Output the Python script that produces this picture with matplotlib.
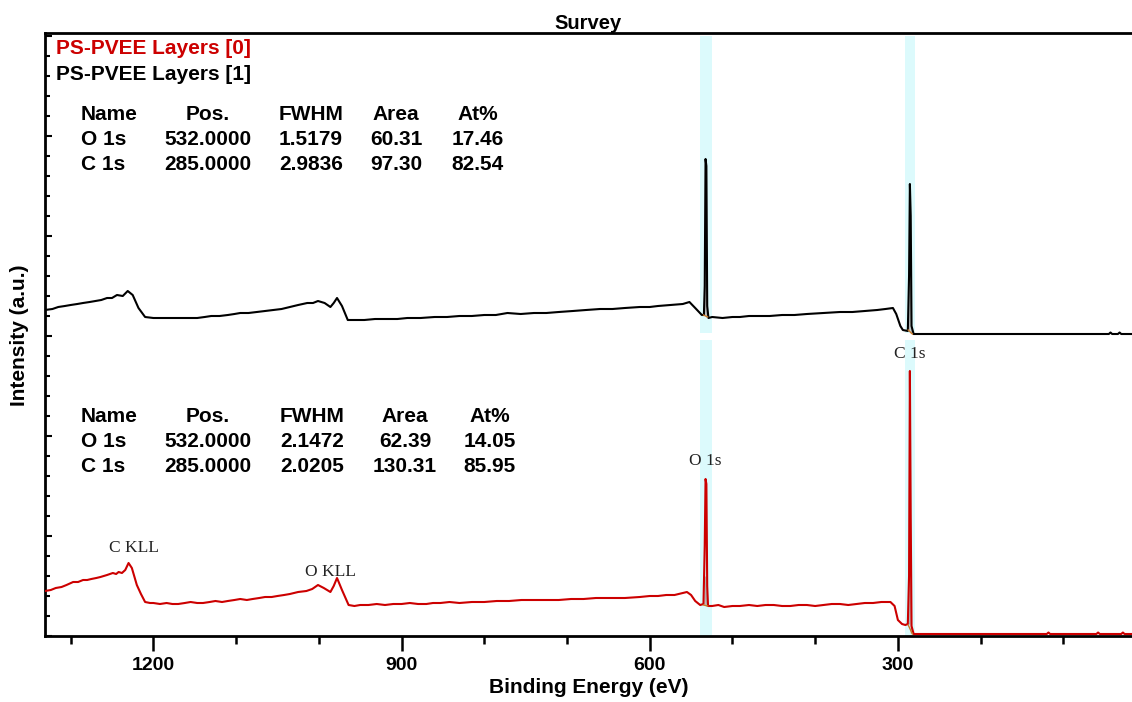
import matplotlib.pyplot as plt
from matplotlib.ticker import MultipleLocator

# survey spectra, binding energy (eV) vs intensity (arb. units, 1 unit = one major y tick)
be_red = [1331, 1324, 1318, 1311, 1305, 1297, 1291, 1285, 1280, 1275, 1269, 1264, 1256, 1249,
          1245, 1242, 1238, 1234, 1230, 1226, 1220, 1215, 1210, 1204, 1200, 1192, 1184, 1177,
          1170, 1162, 1155, 1147, 1140, 1132, 1125, 1117, 1110, 1102, 1095, 1087, 1080, 1072,
          1065, 1057, 1050, 1042, 1035, 1025, 1015, 1008, 1001, 994, 986, 982, 978, 972, 964,
          957, 950, 940, 930, 920, 910, 900, 890, 880, 870, 862, 853, 842, 830, 815, 800, 785,
          770, 755, 740, 725, 710, 695, 680, 665, 650, 630, 612, 600, 590, 580, 570, 560, 555,
          550, 545, 539, 535, 533.5, 532.5, 531.5, 530.5, 529.5, 524.5, 517, 510, 500, 491,
          480, 470, 460, 450, 440, 430, 420, 410, 400, 390, 380, 370, 360, 350, 340, 330, 320,
          315, 309, 304, 300, 295, 291, 288, 286.5, 285.5, 284.5, 283.5, 281, 250, 120, 118,
          116, 60, 58, 56, 30, 28, 26, 17]
int_red = [0.45, 0.46, 0.48, 0.49, 0.51, 0.54, 0.54, 0.56, 0.56, 0.57, 0.58, 0.59, 0.61, 0.63,
           0.62, 0.64, 0.63, 0.66, 0.73, 0.68, 0.51, 0.42, 0.34, 0.33, 0.33, 0.32, 0.33, 0.32,
           0.32, 0.33, 0.34, 0.33, 0.33, 0.34, 0.35, 0.34, 0.35, 0.36, 0.37, 0.36, 0.37, 0.38,
           0.39, 0.39, 0.40, 0.41, 0.42, 0.44, 0.45, 0.47, 0.51, 0.48, 0.44, 0.50, 0.58, 0.46,
           0.31, 0.30, 0.31, 0.31, 0.32, 0.31, 0.32, 0.32, 0.33, 0.32, 0.32, 0.33, 0.33, 0.34,
           0.33, 0.34, 0.34, 0.35, 0.35, 0.36, 0.36, 0.36, 0.36, 0.37, 0.37, 0.38, 0.38, 0.38,
           0.39, 0.40, 0.40, 0.41, 0.41, 0.43, 0.44, 0.41, 0.35, 0.31, 0.32, 0.90, 1.57, 1.52,
           0.50, 0.30, 0.30, 0.31, 0.29, 0.30, 0.30, 0.31, 0.30, 0.31, 0.31, 0.30, 0.30, 0.31,
           0.31, 0.30, 0.31, 0.32, 0.32, 0.31, 0.32, 0.33, 0.33, 0.34, 0.34, 0.34, 0.30, 0.16,
           0.12, 0.11, 0.12, 0.60, 2.65, 1.20, 0.10, 0.02, 0.02, 0.02, 0.035, 0.02, 0.02, 0.035,
           0.02, 0.02, 0.035, 0.02, 0.02]

be_black = [1331, 1322, 1315, 1307, 1300, 1292, 1285, 1277, 1270, 1263, 1256, 1250, 1244, 1237,
            1231, 1225, 1218, 1210, 1200, 1190, 1180, 1170, 1158, 1147, 1138, 1130, 1120, 1110,
            1102, 1095, 1085, 1075, 1065, 1055, 1045, 1035, 1025, 1014, 1007, 1001, 993, 986,
            982, 978, 972, 965, 955, 945, 932, 920, 905, 893, 877, 860, 845, 830, 815, 800, 786,
            772, 756, 740, 725, 710, 693, 677, 660, 645, 630, 612, 600, 590, 575, 560, 552, 545,
            537, 534.5, 533.5, 532.5, 531.5, 530.5, 529, 524.5, 512, 500, 491, 480, 470, 455,
            440, 425, 410, 390, 370, 355, 340, 325, 315, 306, 302, 297, 294, 288, 286.5, 285.5,
            284.5, 283.5, 281, 45, 43, 41, 34, 32, 30, 17]
int_black = [0.26, 0.27, 0.29, 0.30, 0.31, 0.32, 0.33, 0.34, 0.35, 0.36, 0.38, 0.38, 0.41, 0.40,
             0.45, 0.41, 0.28, 0.19, 0.18, 0.18, 0.18, 0.18, 0.18, 0.18, 0.19, 0.20, 0.20, 0.21,
             0.22, 0.23, 0.23, 0.24, 0.25, 0.26, 0.27, 0.29, 0.31, 0.33, 0.33, 0.35, 0.33, 0.29,
             0.33, 0.38, 0.30, 0.16, 0.16, 0.16, 0.17, 0.17, 0.17, 0.18, 0.18, 0.19, 0.19, 0.20,
             0.20, 0.21, 0.21, 0.23, 0.22, 0.23, 0.23, 0.24, 0.25, 0.26, 0.27, 0.27, 0.28, 0.29,
             0.29, 0.30, 0.31, 0.32, 0.34, 0.28, 0.21, 0.21, 0.50, 1.77, 1.70, 0.30, 0.18, 0.19,
             0.18, 0.19, 0.19, 0.20, 0.20, 0.20, 0.21, 0.21, 0.22, 0.23, 0.24, 0.24, 0.25, 0.26,
             0.27, 0.28, 0.22, 0.10, 0.06, 0.05, 0.60, 1.52, 1.20, 0.10, 0.02, 0.02, 0.035, 0.02,
             0.02, 0.035, 0.02, 0.02]
black_offset = 3.0

# fitted components (light grey) and fit backgrounds (orange) under O 1s / C 1s
comp_o_be = [533.0, 532.2, 531.0]
comp_o_red = [0.31, 0.59, 0.30]
comp_o_black = [0.21, 0.71, 0.19]
comp_c_be = [285.8, 284.9, 283.8]
comp_c_red = [0.12, 1.19, 0.03]
comp_c_black = [0.06, 1.14, 0.03]
bg_o_be = [535.0, 530.0]
bg_c_be = [287.5, 282.5]

# acquisition regions
region_o = (525, 539)
region_c = (279, 292)

peak_labels = ["C KLL", "O KLL", "O 1s", "C 1s"]
peak_label_be = [1224, 986, 533, 286]
peak_label_y = [0.88, 0.64, 1.75, 2.82]

legend_names = ["PS-PVEE Layers [0]", "PS-PVEE Layers [1]"]
table_header = ["Name", "Pos.", "FWHM", "Area", "At%"]
table_black = [["O 1s", "532.0000", "1.5179", "60.31", "17.46"],
               ["C 1s", "285.0000", "2.9836", "97.30", "82.54"]]
table_red = [["O 1s", "532.0000", "2.1472", "62.39", "14.05"],
             ["C 1s", "285.0000", "2.0205", "130.31", "85.95"]]

RED = "#cc0000"
W, H = 1132, 702

fig = plt.figure(figsize=(W / 100, H / 100), dpi=100)
ax = fig.add_axes([45 / W, 1 - 636 / H, 1 - 45 / W, (636 - 33) / H])

for lo, hi in (region_o, region_c):
    ax.fill_between([lo, hi], 0.0, 2.96, color="#dcfafc", lw=0, zorder=0)
    ax.fill_between([lo, hi], 3.03, 6.0, color="#dcfafc", lw=0, zorder=0)

ax.plot(be_red, int_red, color=RED, lw=1.5, zorder=3)
ax.plot(be_black, [v + black_offset for v in int_black], color="black", lw=1.5, zorder=3)

ax.plot(comp_o_be, comp_o_red, color="#b0b0b0", lw=0.9, zorder=2)
ax.plot(comp_c_be, comp_c_red, color="#b0b0b0", lw=0.9, zorder=2)
ax.plot(comp_o_be, [v + black_offset for v in comp_o_black], color="#b0b0b0", lw=0.9, zorder=2)
ax.plot(comp_c_be, [v + black_offset for v in comp_c_black], color="#b0b0b0", lw=0.9, zorder=2)
ax.plot(bg_o_be, [0.31, 0.30], color="#c87a2a", lw=1.0, zorder=4)
ax.plot(bg_c_be, [0.11, 0.02], color="#c87a2a", lw=1.0, zorder=4)
ax.plot(bg_o_be, [0.21 + black_offset, 0.19 + black_offset], color="#c87a2a", lw=1.0, zorder=4)
ax.plot(bg_c_be, [0.06 + black_offset, 0.02 + black_offset], color="#c87a2a", lw=1.0, zorder=4)

for lab, x, y in zip(peak_labels, peak_label_be, peak_label_y):
    ax.text(x, y, lab, family="Liberation Serif", fontsize=12.5, ha="center", va="center",
            color="#222222", zorder=5)

ax.set_xlim(1331, 17)
ax.set_ylim(0, 6.03)
ax.xaxis.set_major_locator(MultipleLocator(300))
ax.xaxis.set_minor_locator(MultipleLocator(100))
ax.yaxis.set_major_locator(MultipleLocator(1))
ax.yaxis.set_minor_locator(MultipleLocator(0.2))
ax.tick_params(axis="x", which="major", direction="out", length=11, width=1.8, pad=4)
ax.tick_params(axis="x", which="minor", direction="out", length=6, width=1.8)
ax.tick_params(axis="y", which="major", direction="in", length=5, width=1.5, labelleft=False)
ax.tick_params(axis="y", which="minor", direction="in", length=3.5, width=1.5)
for lbl in ax.get_xticklabels():
    lbl.set_fontweight("bold")
    lbl.set_fontsize(14)
    lbl.set_family("Liberation Sans")
for side in ("left", "bottom", "top"):
    ax.spines[side].set_linewidth(2)
ax.spines["right"].set_visible(False)

ax.set_title("Survey", fontsize=14.5, fontweight="bold", family="Liberation Sans", pad=2)
ax.set_xlabel("Binding Energy (eV)", fontsize=15, fontweight="bold", family="Liberation Sans",
              labelpad=3)
fig.text(20 / W, 1 - 335 / H, "Intensity (a.u.)", rotation=90, fontsize=15, fontweight="bold",
         family="Liberation Sans", ha="center", va="center")


def px(x, y):
    return x / W, 1 - y / H


txt = dict(fontsize=15, fontweight="bold", family="Liberation Sans", va="center")
fig.text(*px(56, 49), legend_names[0], color=RED, ha="left", **txt)
fig.text(*px(56, 75), legend_names[1], color="black", ha="left", **txt)


def draw_table(rows, top, col_x):
    # first column left aligned, the rest centred on col_x
    for j, head in enumerate(table_header):
        fig.text(*px(col_x[j], top), head, ha="left" if j == 0 else "center", **txt)
    for i, row in enumerate(rows):
        for j, cell in enumerate(row):
            fig.text(*px(col_x[j], top + 24.5 * (i + 1)), cell,
                     ha="left" if j == 0 else "center", **txt)


draw_table(table_black, 115, [81, 208, 311, 396, 478])
draw_table(table_red, 417, [81, 208, 312, 405, 490])

fig.savefig("out.png", dpi=100)
